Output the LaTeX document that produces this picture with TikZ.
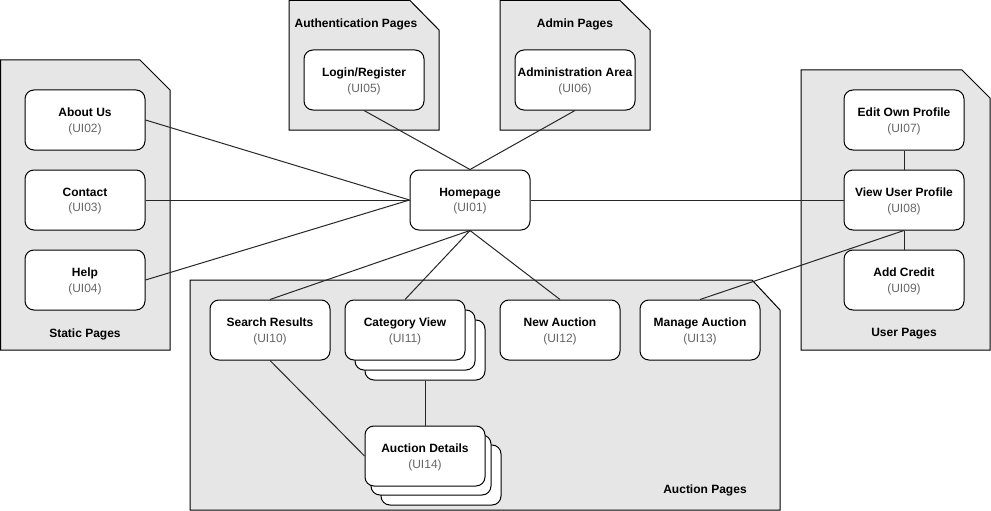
\documentclass[tikz,border=0pt]{standalone}
\usepackage{fontspec}
\setmainfont{Liberation Sans}
\usetikzlibrary{calc}
\definecolor{grpfill}{HTML}{E6E6E6}
\definecolor{uigray}{HTML}{666666}
\tikzset{
  page/.style={draw=black, fill=white, rounded corners=9pt, minimum width=120pt, minimum height=60pt, line width=1pt, align=center, inner sep=0pt, text depth=0pt, font=\fontsize{12}{15.5}\selectfont},
  group/.style={draw=black, fill=grpfill, line width=1pt},
  grplabel/.style={font=\fontsize{12}{15}\selectfont\bfseries, inner sep=0pt},
  link/.style={draw=black!85, line width=1pt}
}
\newcommand{\pg}[2]{\textbf{#1}\\{\color{uigray}(#2)}}
\begin{document}
\begin{tikzpicture}[x=1pt,y=-1pt]
\useasboundingbox (0,0) rectangle (991,511);
% containers
\draw[group] (0.5,60) -- (140,60) -- (170,90) -- (170,350) -- (0.5,350) -- cycle;
\draw[group] (289,0.5) -- (410,0.5) -- (439,30) -- (439,130) -- (289,130) -- cycle;
\draw[group] (500,0.5) -- (620,0.5) -- (650,30) -- (650,130) -- (500,130) -- cycle;
\draw[group] (801,70) -- (962,70) -- (990,98) -- (990,350) -- (801,350) -- cycle;
\draw[group] (190,280) -- (752,280) -- (780,310) -- (780,510) -- (190,510) -- cycle;
\node[grplabel] (lstatic) at (85,334) {Static Pages};
\node[grplabel] (lauth) at (356,24) {Authentication Pages};
\node[grplabel] (ladmin) at (575,24) {Admin Pages};
\node[grplabel] (luser) at (904,334) {User Pages};
\node[grplabel] (lauction) at (705,490) {Auction Pages};
% node positions
\coordinate (pabout) at (85,120);
\coordinate (pcontact) at (85,200);
\coordinate (phelp) at (85,280);
\coordinate (plogin) at (364,80);
\coordinate (padmin) at (575,80);
\coordinate (phome) at (470,200);
\coordinate (pedit) at (904,120);
\coordinate (pview) at (904,200);
\coordinate (padd) at (904,280);
\coordinate (psearch) at (270,330);
\coordinate (pcat) at (405,330);
\coordinate (pnew) at (560,330);
\coordinate (pmanage) at (700,330);
\coordinate (pdet) at (425,456);
% stacked backs
\node[page] (cat3) at ($(pcat)+(20,20)$) {};
\node[page] (cat2) at ($(pcat)+(10,10)$) {};
\node[page] (det3) at ($(pdet)+(16,19)$) {};
\node[page] (det2) at ($(pdet)+(6,9)$) {};
% pages
\node[page] (about) at (pabout) {\pg{About Us}{UI02}};
\node[page] (contact) at (pcontact) {\pg{Contact}{UI03}};
\node[page] (help) at (phelp) {\pg{Help}{UI04}};
\node[page] (login) at (plogin) {\pg{Login/Register}{UI05}};
\node[page] (admin) at (padmin) {\pg{Administration Area}{UI06}};
\node[page] (home) at (phome) {\pg{Homepage}{UI01}};
\node[page] (edit) at (pedit) {\pg{Edit Own Profile}{UI07}};
\node[page] (view) at (pview) {\pg{View User Profile}{UI08}};
\node[page] (add) at (padd) {\pg{Add Credit}{UI09}};
\node[page] (search) at (psearch) {\pg{Search Results}{UI10}};
\node[page] (cat) at (pcat) {\pg{Category View}{UI11}};
\node[page] (new) at (pnew) {\pg{New Auction}{UI12}};
\node[page] (manage) at (pmanage) {\pg{Manage Auction}{UI13}};
\node[page] (det) at (pdet) {\pg{Auction Details}{UI14}};
% connectors
\draw[link] (about.east) -- (home.west);
\draw[link] (contact.east) -- (home.west);
\draw[link] (help.east) -- (home.west);
\draw[link] (login.south) -- (home.north);
\draw[link] (admin.south) -- (home.north);
\draw[link] (home.east) -- (view.west);
\draw[link] (edit.south) -- (view.north);
\draw[link] (view.south) -- (add.north);
\draw[link] (home.south) -- (search.north);
\draw[link] (home.south) -- (cat.north);
\draw[link] (home.south) -- (new.north);
\draw[link] (manage.north) -- (view.south);
\draw[link] (search.south) -- (det.west);
\draw[link] (cat3.south) -- (det.north);
\end{tikzpicture}
\end{document}
